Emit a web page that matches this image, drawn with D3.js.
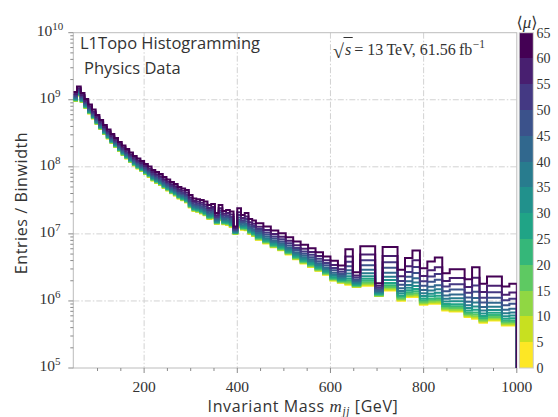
<!DOCTYPE html>
<html>
<head>
<meta charset="utf-8">
<script src="https://cdn.jsdelivr.net/npm/d3@7"></script>
<style>
  html, body { margin: 0; padding: 0; background: #fff; }
  svg { display: block; }
</style>
</head>
<body>
<svg id="chart" width="558" height="417"></svg>
<script>
// Bin edges of the invariant-mass histogram [GeV]: 8 GeV bins up to 440, 16 GeV bins above
const massEdges = [48,56,64,72,80,88,96,104,112,120,128,136,144,152,160,168,176,184,192,200,
  208,216,224,232,240,248,256,264,272,280,288,296,304,312,320,328,336,344,352,360,
  368,376,384,392,400,408,416,424,432,440,456,472,488,504,520,536,552,568,584,600,
  616,632,648,664,680,696,712,728,744,760,776,792,808,824,840,856,872,888,904,920,
  936,952,968,984,1000];

// <mu> bin boundaries for the colour bar
const muEdges = [0,5,10,15,20,25,30,35,40,45,50,55,60,65];

// Entries / Binwidth per mass bin, one array per <mu> bin
const mu00_05 = [
  9.59e8,1.16e9,9.27e8,7.55e8,6.25e8,5.26e8,4.36e8,3.67e8,3.09e8,2.65e8,
  2.27e8,1.98e8,1.73e8,1.50e8,1.33e8,1.18e8,1.05e8,9.46e7,8.69e7,7.83e7,
  7.08e7,6.27e7,5.75e7,5.37e7,4.85e7,4.45e7,4.02e7,3.75e7,3.38e7,3.16e7,
  2.94e7,2.48e7,2.20e7,2.13e7,2.02e7,1.89e7,1.67e7,1.70e7,1.41e7,1.59e7,
  1.39e7,1.36e7,1.27e7,1.00e7,1.25e7,1.15e7,1.13e7,1.00e7,9.33e6,8.15e6,
  7.21e6,6.30e6,5.68e6,4.94e6,4.17e6,3.63e6,3.22e6,2.81e6,2.45e6,2.01e6,
  1.86e6,1.74e6,1.61e6,1.69e6,1.69e6,1.18e6,1.43e6,1.43e6,1.01e6,1.14e6,
  1.14e6,8.75e5,9.06e5,9.06e5,7.19e5,6.95e5,6.95e5,5.74e5,5.41e5,4.72e5,
  5.11e5,5.11e5,4.30e5,4.30e5];
const mu05_10 = [
  9.66e8,1.17e9,9.33e8,7.60e8,6.29e8,5.30e8,4.39e8,3.70e8,3.11e8,2.67e8,
  2.29e8,1.99e8,1.74e8,1.51e8,1.34e8,1.19e8,1.06e8,9.55e7,8.77e7,7.90e7,
  7.14e7,6.33e7,5.80e7,5.42e7,4.89e7,4.49e7,4.06e7,3.78e7,3.41e7,3.19e7,
  2.98e7,2.51e7,2.23e7,2.16e7,2.04e7,1.91e7,1.69e7,1.72e7,1.42e7,1.61e7,
  1.41e7,1.38e7,1.29e7,1.007e7,1.27e7,1.17e7,1.15e7,1.012e7,9.46e6,8.26e6,
  7.31e6,6.39e6,5.76e6,5.01e6,4.24e6,3.69e6,3.27e6,2.85e6,2.49e6,2.04e6,
  1.89e6,1.79e6,1.63e6,1.75e6,1.75e6,1.19e6,1.48e6,1.48e6,1.04e6,1.18e6,
  1.19e6,9.04e5,9.40e5,9.42e5,7.43e5,7.21e5,7.21e5,5.93e5,5.65e5,4.89e5,
  5.30e5,5.30e5,4.45e5,4.46e5];
const mu10_15 = [
  9.74e8,1.18e9,9.42e8,7.67e8,6.35e8,5.34e8,4.43e8,3.73e8,3.14e8,2.69e8,
  2.31e8,2.01e8,1.76e8,1.52e8,1.35e8,1.20e8,1.07e8,9.61e7,8.83e7,7.96e7,
  7.21e7,6.39e7,5.86e7,5.47e7,4.94e7,4.53e7,4.10e7,3.83e7,3.45e7,3.23e7,
  3.00e7,2.53e7,2.25e7,2.17e7,2.07e7,1.93e7,1.71e7,1.74e7,1.44e7,1.63e7,
  1.42e7,1.40e7,1.31e7,1.012e7,1.29e7,1.18e7,1.16e7,1.026e7,9.57e6,8.38e6,
  7.43e6,6.49e6,5.85e6,5.09e6,4.30e6,3.75e6,3.33e6,2.90e6,2.53e6,2.08e6,
  1.92e6,1.85e6,1.65e6,1.81e6,1.81e6,1.21e6,1.54e6,1.54e6,1.06e6,1.22e6,
  1.24e6,9.31e5,9.75e5,9.82e5,7.67e5,7.48e5,7.48e5,6.12e5,5.92e5,5.05e5,
  5.51e5,5.51e5,4.60e5,4.62e5];
const mu15_20 = [
  9.84e8,1.19e9,9.51e8,7.75e8,6.41e8,5.40e8,4.47e8,3.77e8,3.17e8,2.72e8,
  2.33e8,2.03e8,1.77e8,1.54e8,1.37e8,1.21e8,1.08e8,9.73e7,8.93e7,8.05e7,
  7.29e7,6.46e7,5.94e7,5.55e7,5.01e7,4.60e7,4.15e7,3.87e7,3.49e7,3.27e7,
  3.04e7,2.57e7,2.28e7,2.21e7,2.10e7,1.97e7,1.74e7,1.77e7,1.45e7,1.66e7,
  1.45e7,1.42e7,1.33e7,1.021e7,1.32e7,1.20e7,1.19e7,1.042e7,9.75e6,8.56e6,
  7.57e6,6.62e6,5.96e6,5.19e6,4.39e6,3.83e6,3.39e6,2.96e6,2.58e6,2.12e6,
  1.95e6,1.93e6,1.68e6,1.89e6,1.89e6,1.22e6,1.62e6,1.62e6,1.10e6,1.27e6,
  1.30e6,9.70e5,1.02e6,1.03e6,8.00e5,7.83e5,7.83e5,6.39e5,6.27e5,5.27e5,
  5.78e5,5.78e5,4.80e5,4.85e5];
const mu20_25 = [
  9.97e8,1.21e9,9.64e8,7.85e8,6.50e8,5.47e8,4.53e8,3.82e8,3.21e8,2.76e8,
  2.36e8,2.06e8,1.80e8,1.56e8,1.39e8,1.23e8,1.09e8,9.86e7,9.06e7,8.16e7,
  7.40e7,6.55e7,6.02e7,5.62e7,5.08e7,4.66e7,4.22e7,3.94e7,3.55e7,3.32e7,
  3.10e7,2.61e7,2.32e7,2.25e7,2.14e7,2.00e7,1.77e7,1.81e7,1.48e7,1.70e7,
  1.47e7,1.45e7,1.36e7,1.033e7,1.36e7,1.23e7,1.22e7,1.064e7,9.96e6,8.75e6,
  7.74e6,6.77e6,6.11e6,5.32e6,4.50e6,3.92e6,3.49e6,3.05e6,2.65e6,2.18e6,
  2.00e6,2.03e6,1.71e6,2.00e6,2.00e6,1.25e6,1.72e6,1.72e6,1.15e6,1.35e6,
  1.39e6,1.02e6,1.08e6,1.10e6,8.43e5,8.32e5,8.32e5,6.74e5,6.75e5,5.57e5,
  6.16e5,6.16e5,5.07e5,5.13e5];
const mu25_30 = [
  1.01e9,1.22e9,9.77e8,7.96e8,6.59e8,5.54e8,4.60e8,3.87e8,3.26e8,2.79e8,
  2.39e8,2.09e8,1.82e8,1.59e8,1.41e8,1.25e8,1.11e8,1.00e8,9.23e7,8.32e7,
  7.53e7,6.67e7,6.15e7,5.74e7,5.18e7,4.76e7,4.31e7,4.02e7,3.62e7,3.39e7,
  3.16e7,2.67e7,2.37e7,2.30e7,2.19e7,2.05e7,1.81e7,1.85e7,1.50e7,1.74e7,
  1.51e7,1.49e7,1.39e7,1.045e7,1.40e7,1.26e7,1.25e7,1.091e7,1.02e7,9.00e6,
  7.98e6,6.97e6,6.30e6,5.48e6,4.64e6,4.05e6,3.60e6,3.14e6,2.74e6,2.26e6,
  2.06e6,2.16e6,1.76e6,2.14e6,2.14e6,1.28e6,1.85e6,1.85e6,1.21e6,1.44e6,
  1.51e6,1.09e6,1.17e6,1.19e6,8.99e5,8.95e5,8.95e5,7.19e5,7.36e5,5.96e5,
  6.64e5,6.64e5,5.43e5,5.51e5];
const mu30_35 = [
  1.03e9,1.25e9,9.97e8,8.12e8,6.73e8,5.66e8,4.69e8,3.95e8,3.32e8,2.85e8,
  2.44e8,2.13e8,1.86e8,1.62e8,1.44e8,1.28e8,1.14e8,1.03e8,9.44e7,8.50e7,
  7.71e7,6.84e7,6.29e7,5.87e7,5.31e7,4.87e7,4.42e7,4.12e7,3.71e7,3.49e7,
  3.26e7,2.75e7,2.44e7,2.36e7,2.26e7,2.11e7,1.87e7,1.92e7,1.54e7,1.80e7,
  1.55e7,1.54e7,1.44e7,1.062e7,1.47e7,1.30e7,1.30e7,1.13e7,1.06e7,9.36e6,
  8.28e6,7.23e6,6.55e6,5.70e6,4.83e6,4.23e6,3.76e6,3.28e6,2.85e6,2.37e6,
  2.14e6,2.34e6,1.82e6,2.33e6,2.33e6,1.31e6,2.05e6,2.05e6,1.30e6,1.57e6,
  1.67e6,1.18e6,1.28e6,1.33e6,9.79e5,9.86e5,9.86e5,7.85e5,8.28e5,6.50e5,
  7.33e5,7.33e5,5.92e5,6.06e5];
const mu35_40 = [
  1.06e9,1.28e9,1.02e9,8.32e8,6.89e8,5.80e8,4.80e8,4.04e8,3.41e8,2.92e8,
  2.50e8,2.18e8,1.91e8,1.66e8,1.48e8,1.31e8,1.16e8,1.05e8,9.68e7,8.72e7,
  7.91e7,7.02e7,6.47e7,6.04e7,5.46e7,5.01e7,4.55e7,4.25e7,3.83e7,3.60e7,
  3.36e7,2.83e7,2.51e7,2.44e7,2.34e7,2.19e7,1.94e7,1.99e7,1.58e7,1.88e7,
  1.61e7,1.60e7,1.50e7,1.081e7,1.54e7,1.35e7,1.36e7,1.172e7,1.10e7,9.76e6,
  8.64e6,7.55e6,6.84e6,5.95e6,5.05e6,4.44e6,3.93e6,3.43e6,2.99e6,2.48e6,
  2.24e6,2.56e6,1.89e6,2.58e6,2.58e6,1.36e6,2.29e6,2.29e6,1.41e6,1.73e6,
  1.88e6,1.30e6,1.43e6,1.49e6,1.08e6,1.10e6,1.10e6,8.65e5,9.45e5,7.18e5,
  8.21e5,8.21e5,6.54e5,6.74e5];
const mu40_45 = [
  1.09e9,1.31e9,1.05e9,8.55e8,7.08e8,5.95e8,4.94e8,4.15e8,3.50e8,3.00e8,
  2.57e8,2.24e8,1.96e8,1.71e8,1.52e8,1.35e8,1.20e8,1.09e8,9.98e7,8.99e7,
  8.16e7,7.27e7,6.69e7,6.25e7,5.65e7,5.18e7,4.71e7,4.40e7,3.96e7,3.73e7,
  3.50e7,2.95e7,2.62e7,2.54e7,2.43e7,2.29e7,2.03e7,2.08e7,1.64e7,1.97e7,
  1.67e7,1.68e7,1.58e7,1.107e7,1.63e7,1.42e7,1.44e7,1.227e7,1.15e7,1.03e7,
  9.12e6,7.97e6,7.22e6,6.28e6,5.33e6,4.70e6,4.18e6,3.64e6,3.16e6,2.64e6,
  2.36e6,2.86e6,1.98e6,2.92e6,2.92e6,1.41e6,2.63e6,2.63e6,1.55e6,1.96e6,
  2.18e6,1.45e6,1.63e6,1.72e6,1.21e6,1.25e6,1.25e6,9.72e5,1.11e6,8.11e5,
  9.43e5,9.43e5,7.39e5,7.68e5];
const mu45_50 = [
  1.13e9,1.36e9,1.09e9,8.87e8,7.34e8,6.18e8,5.12e8,4.31e8,3.63e8,3.11e8,
  2.67e8,2.33e8,2.03e8,1.78e8,1.58e8,1.40e8,1.25e8,1.13e8,1.04e8,9.37e7,
  8.51e7,7.57e7,6.99e7,6.53e7,5.90e7,5.41e7,4.93e7,4.60e7,4.15e7,3.92e7,
  3.68e7,3.10e7,2.75e7,2.67e7,2.57e7,2.42e7,2.14e7,2.20e7,1.71e7,2.10e7,
  1.77e7,1.78e7,1.67e7,1.14e7,1.76e7,1.51e7,1.54e7,1.30e7,1.23e7,1.10e7,
  9.75e6,8.52e6,7.73e6,6.72e6,5.73e6,5.06e6,4.50e6,3.92e6,3.40e6,2.86e6,
  2.53e6,3.29e6,2.09e6,3.41e6,3.41e6,1.49e6,3.12e6,3.12e6,1.75e6,2.29e6,
  2.62e6,1.68e6,1.93e6,2.07e6,1.40e6,1.48e6,1.48e6,1.13e6,1.37e6,9.48e5,
  1.12e6,1.12e6,8.64e5,9.07e5];
const mu50_55 = [
  1.17e9,1.41e9,1.13e9,9.20e8,7.62e8,6.41e8,5.31e8,4.47e8,3.77e8,3.23e8,
  2.77e8,2.41e8,2.11e8,1.85e8,1.64e8,1.46e8,1.30e8,1.18e8,1.08e8,9.76e7,
  8.89e7,7.91e7,7.34e7,6.85e7,6.19e7,5.68e7,5.18e7,4.83e7,4.35e7,4.12e7,
  3.87e7,3.27e7,2.90e7,2.82e7,2.72e7,2.56e7,2.27e7,2.34e7,1.79e7,2.24e7,
  1.88e7,1.89e7,1.79e7,1.175e7,1.91e7,1.60e7,1.66e7,1.384e7,1.31e7,1.18e7,
  1.05e7,9.15e6,8.33e6,7.24e6,6.18e6,5.47e6,4.88e6,4.25e6,3.68e6,3.11e6,
  2.73e6,3.83e6,2.23e6,4.03e6,4.03e6,1.57e6,3.76e6,3.76e6,1.99e6,2.70e6,
  3.20e6,1.96e6,2.31e6,2.52e6,1.64e6,1.78e6,1.78e6,1.33e6,1.70e6,1.12e6,
  1.35e6,1.35e6,1.02e6,1.08e6];
const mu55_60 = [
  1.22e9,1.48e9,1.18e9,9.63e8,7.98e8,6.71e8,5.56e8,4.68e8,3.94e8,3.38e8,
  2.90e8,2.53e8,2.21e8,1.95e8,1.73e8,1.53e8,1.36e8,1.24e8,1.14e8,1.03e8,
  9.35e7,8.36e7,7.76e7,7.24e7,6.54e7,6.00e7,5.50e7,5.13e7,4.62e7,4.38e7,
  4.13e7,3.49e7,3.09e7,3.01e7,2.91e7,2.75e7,2.44e7,2.52e7,1.89e7,2.42e7,
  2.00e7,2.05e7,1.94e7,1.219e7,2.11e7,1.73e7,1.81e7,1.493e7,1.42e7,1.28e7,
  1.14e7,9.96e6,9.09e6,7.90e6,6.76e6,6.01e6,5.35e6,4.67e6,4.03e6,3.44e6,
  2.98e6,4.60e6,2.40e6,4.92e6,4.92e6,1.68e6,4.69e6,4.69e6,2.33e6,3.30e6,
  4.04e6,2.36e6,2.86e6,3.19e6,1.99e6,2.20e6,2.20e6,1.61e6,2.21e6,1.36e6,
  1.69e6,1.69e6,1.24e6,1.34e6];
const mu60_65 = [
  1.31e9,1.58e9,1.26e9,1.03e9,8.51e8,7.16e8,5.93e8,5.00e8,4.21e8,3.61e8,
  3.09e8,2.70e8,2.35e8,2.08e8,1.85e8,1.64e8,1.45e8,1.33e8,1.22e8,1.10e8,
  1.01e8,9.00e7,8.40e7,7.83e7,7.08e7,6.49e7,5.96e7,5.56e7,5.01e7,4.77e7,
  4.53e7,3.81e7,3.38e7,3.29e7,3.21e7,3.03e7,2.70e7,2.80e7,2.04e7,2.70e7,
  2.20e7,2.28e7,2.16e7,1.29e7,2.42e7,1.92e7,2.04e7,1.66e7,1.58e7,1.44e7,
  1.29e7,1.12e7,1.02e7,8.93e6,7.67e6,6.86e6,6.12e6,5.33e6,4.59e6,3.96e6,
  3.37e6,5.92e6,2.67e6,6.52e6,6.52e6,1.84e6,6.40e6,6.40e6,2.91e6,4.35e6,
  5.64e6,3.06e6,3.86e6,4.44e6,2.59e6,2.98e6,2.98e6,2.11e6,3.19e6,1.80e6,
  2.31e6,2.31e6,1.64e6,1.80e6];

// lowest <mu> first so the highest-pileup curve ends up on top
const muSeries = [mu00_05, mu05_10, mu10_15, mu15_20, mu20_25, mu25_30, mu30_35,
                  mu35_40, mu40_45, mu45_50, mu50_55, mu55_60, mu60_65];

const xMajorTicks = [200, 400, 600, 800, 1000];
const xMinorTicks = [100, 150, 250, 300, 350, 450, 500, 550, 650, 700, 750, 850, 900, 950];
const yDecades = [5, 6, 7, 8, 9, 10];
const colorbarTicks = [0, 5, 10, 15, 20, 25, 30, 35, 40, 45, 50, 55, 60, 65];

// ---------------------------------------------------------------------------
const svg = d3.select("#chart");
const sans = "'Open Sans', 'Noto Sans', sans-serif";
const serif = "'Liberation Serif', 'DejaVu Serif', serif";
const textColor = "#333";
const plot = { left: 73.3, right: 516.8, top: 32.7, bottom: 368 };

const x = d3.scaleLinear().domain([48, 1000]).range([plot.left, plot.right]);
const y = d3.scaleLog().domain([1e5, 1e10]).range([plot.bottom, plot.top]);
const muColor = i => d3.interpolateViridis(1 - i / (muSeries.length - 1));

svg.append("rect").attr("width", 558).attr("height", 417).attr("fill", "#fff");

svg.append("defs").append("clipPath").attr("id", "plotClip")
  .append("rect")
  .attr("x", plot.left).attr("y", plot.top)
  .attr("width", plot.right - plot.left).attr("height", plot.bottom - plot.top);

// grid (dash-dot)
const grid = svg.append("g").attr("stroke", "#d2d2d2").attr("stroke-width", 1)
  .attr("stroke-dasharray", "6,2,1.5,2");
grid.selectAll("line.gx").data(xMajorTicks.filter(t => t < 1000)).join("line")
  .attr("x1", d => x(d)).attr("x2", d => x(d))
  .attr("y1", plot.top).attr("y2", plot.bottom);
grid.selectAll("line.gy").data(yDecades.filter(e => e > 5 && e < 10)).join("line")
  .attr("x1", plot.left).attr("x2", plot.right)
  .attr("y1", d => y(Math.pow(10, d))).attr("y2", d => y(Math.pow(10, d)));

// frame
svg.append("rect")
  .attr("x", plot.left).attr("y", plot.top)
  .attr("width", plot.right - plot.left).attr("height", plot.bottom - plot.top)
  .attr("fill", "none").attr("stroke", "#bcbcbc").attr("stroke-width", 1);

// ticks
const ticks = svg.append("g").attr("stroke", "#8a8a8a").attr("stroke-width", 1);
ticks.selectAll("line.xmaj").data(xMajorTicks).join("line")
  .attr("x1", d => x(d)).attr("x2", d => x(d))
  .attr("y1", plot.bottom).attr("y2", plot.bottom + 5);
ticks.selectAll("line.xmin").data(xMinorTicks).join("line")
  .attr("x1", d => x(d)).attr("x2", d => x(d))
  .attr("y1", plot.bottom).attr("y2", plot.bottom + 3);
ticks.selectAll("line.ymaj").data(yDecades).join("line")
  .attr("x1", plot.left - 5).attr("x2", plot.left)
  .attr("y1", d => y(Math.pow(10, d))).attr("y2", d => y(Math.pow(10, d)));
const yMinor = [];
yDecades.slice(0, -1).forEach(e => { for (let m = 2; m <= 9; m++) yMinor.push(m * Math.pow(10, e)); });
ticks.selectAll("line.ymin").data(yMinor).join("line")
  .attr("x1", plot.left - 3).attr("x2", plot.left)
  .attr("y1", d => y(d)).attr("y2", d => y(d));

// histogram step outlines
const stepLine = d3.line().x(d => x(d[0])).y(d => y(d[1])).curve(d3.curveStepAfter);
const histLayer = svg.append("g").attr("clip-path", "url(#plotClip)");
muSeries.forEach((vals, i) => {
  const pts = vals.map((v, j) => [massEdges[j], v]);
  pts.push([massEdges[massEdges.length - 1], vals[vals.length - 1]]);
  pts.push([massEdges[massEdges.length - 1], 1e4]);
  histLayer.append("path")
    .attr("d", stepLine(pts))
    .attr("fill", "none")
    .attr("stroke", muColor(i))
    .attr("stroke-width", 2)
    .attr("stroke-linejoin", "miter");
});

// x tick labels
svg.append("g").selectAll("text").data(xMajorTicks).join("text")
  .attr("x", d => x(d)).attr("y", plot.bottom + 24)
  .attr("text-anchor", "middle")
  .attr("font-family", serif).attr("font-size", 15.5).attr("fill", textColor)
  .text(d => d);

// y tick labels 10^n
const yLab = svg.append("g").selectAll("text").data(yDecades).join("text")
  .attr("x", d => d >= 10 ? 36.8 : 39.4).attr("y", d => y(Math.pow(10, d)) + 3)
  .attr("text-anchor", "start")
  .attr("font-family", serif).attr("font-size", 15.5).attr("fill", textColor);
yLab.append("tspan").text("10");
yLab.append("tspan").attr("font-size", 11).attr("dy", -6).text(d => d);

// axis titles
const xTitle = svg.append("text")
  .attr("x", 303).attr("y", 411.5)
  .attr("text-anchor", "middle").attr("font-family", sans).attr("font-size", 16)
  .attr("letter-spacing", 0.6)
  .attr("fill", textColor);
xTitle.append("tspan").text("Invariant Mass ");
xTitle.append("tspan").attr("font-family", serif).attr("font-style", "italic").attr("font-size", 17).text("m");
xTitle.append("tspan").attr("font-family", serif).attr("font-style", "italic").attr("font-size", 11.5).attr("dy", 3.5).text("jj");
xTitle.append("tspan").attr("dy", -3.5).text(" [GeV]");

svg.append("text")
  .attr("transform", "translate(27,203) rotate(-90)")
  .attr("text-anchor", "middle").attr("font-family", sans).attr("font-size", 16)
  .attr("letter-spacing", 0.6)
  .attr("fill", textColor)
  .text("Entries / Binwidth");

// in-plot labels
svg.append("text").attr("x", 80).attr("y", 49)
  .attr("font-family", sans).attr("font-size", 16.5).attr("fill", textColor)
  .text("L1Topo Histogramming");
svg.append("text").attr("x", 84).attr("y", 73.5)
  .attr("font-family", sans).attr("font-size", 16.5).attr("fill", textColor)
  .text("Physics Data");

// sqrt(s) = 13 TeV, 61.56 fb^-1
const energy = svg.append("g").attr("font-family", serif).attr("fill", textColor).attr("font-size", 16);
let cx = 333;
const base = 55;
const radical = energy.append("text").attr("x", cx).attr("y", base + 3).attr("font-size", 20).text("\u221A");
cx += radical.node().getComputedTextLength() - 0.5;
const sVar = energy.append("text").attr("x", cx + 1.5).attr("y", base).attr("font-style", "italic").text("s");
const sW = sVar.node().getComputedTextLength() + 3;
energy.append("line").attr("x1", cx).attr("x2", cx + sW).attr("y1", 37.5).attr("y2", 37.5)
  .attr("stroke", textColor).attr("stroke-width", 1);
cx += sW + 1.5;
const rest = energy.append("text").attr("x", cx).attr("y", base).text("= 13\u2009TeV, 61.56\u2009fb");
cx += rest.node().getComputedTextLength() + 0.5;
energy.append("text").attr("x", cx).attr("y", base - 7.5).attr("font-size", 11.5).text("\u22121");

// colour bar
const cb = { left: 519.3, right: 533.3 };
const cbY = d3.scaleLinear().domain([0, 65]).range([plot.bottom, plot.top]);
const cbG = svg.append("g");
cbG.selectAll("rect").data(d3.range(muEdges.length - 1)).join("rect")
  .attr("x", cb.left).attr("width", cb.right - cb.left)
  .attr("y", i => cbY(muEdges[i + 1]))
  .attr("height", i => cbY(muEdges[i]) - cbY(muEdges[i + 1]))
  .attr("fill", i => muColor(i))
  .attr("shape-rendering", "crispEdges");
cbG.append("rect").attr("x", cb.left).attr("y", plot.top)
  .attr("width", cb.right - cb.left).attr("height", plot.bottom - plot.top)
  .attr("fill", "none").attr("stroke", "#c8c8c8").attr("stroke-width", 1);
cbG.selectAll("text").data(colorbarTicks).join("text")
  .attr("x", 536.5).attr("y", d => cbY(d) + 5)
  .attr("font-family", serif).attr("font-size", 14).attr("fill", textColor)
  .text(d => d);
const muLab = svg.append("text").attr("x", 527).attr("y", 27.5).attr("text-anchor", "middle")
  .attr("font-family", serif).attr("font-size", 17).attr("fill", textColor);
muLab.append("tspan").attr("font-family", "'DejaVu Sans', 'DejaVu Serif', serif").attr("font-size", 16).text("\u27E8");
muLab.append("tspan").attr("font-style", "italic").text("\u03BC");
muLab.append("tspan").attr("font-family", "'DejaVu Sans', 'DejaVu Serif', serif").attr("font-size", 16).text("\u27E9");
</script>
</body>
</html>
